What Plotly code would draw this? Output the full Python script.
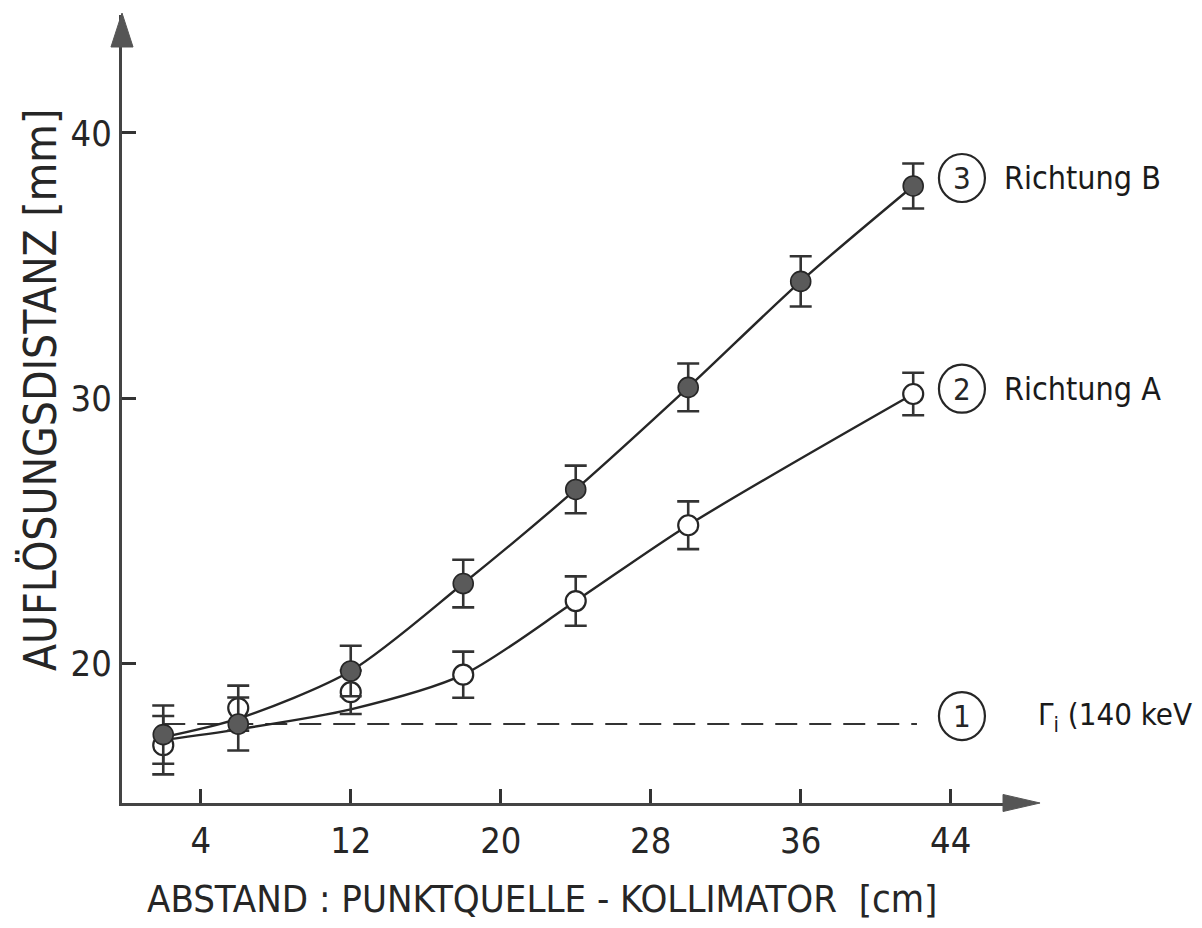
import plotly.graph_objects as go

# ---- data ----
x_b = [2, 6, 12, 18, 24, 30, 36, 42]
y_b = [17.3, 17.7, 19.7, 23.0, 26.55, 30.4, 34.4, 38.0]
err_b = [1.1, 1.0, 0.95, 0.9, 0.9, 0.9, 0.95, 0.85]

x_a = [2, 6, 12, 18, 24, 30, 42]
y_a = [16.9, 18.3, 18.9, 19.56, 22.34, 25.2, 30.15]
err_a = [1.1, 0.85, 0.82, 0.87, 0.93, 0.9, 0.8]

curve_b_x = [2, 6, 12, 18, 24, 30, 36, 42]
curve_b_y = [17.2, 17.9, 19.7, 23.0, 26.55, 30.4, 34.4, 38.0]
curve_a_x = [2, 6, 12, 18, 24, 30, 42]
curve_a_y = [17.1, 17.5, 18.25, 19.56, 22.34, 25.2, 30.15]

gamma_x = [2, 42.2]
gamma_level = 17.7

x_ticks = [4, 12, 20, 28, 36, 44]
y_ticks = [20, 30, 40]

x_range = [-0.2, 48.07]
y_range = [14.72, 44.45]

FONT = "DejaVu Sans Condensed, Liberation Sans Narrow, sans-serif"
INK = "#262626"

fig = go.Figure()

fig.add_trace(go.Scatter(
    x=gamma_x, y=[gamma_level] * len(gamma_x), mode="lines",
    line=dict(color="#333333", width=2.2, dash="22px,12px"),
    hoverinfo="skip", showlegend=False))

fig.add_trace(go.Scatter(
    x=curve_a_x, y=curve_a_y, mode="lines",
    line=dict(color=INK, width=2.4, shape="spline", smoothing=0.8),
    hoverinfo="skip", showlegend=False))
fig.add_trace(go.Scatter(
    x=curve_b_x, y=curve_b_y, mode="lines",
    line=dict(color=INK, width=2.4, shape="spline", smoothing=0.8),
    hoverinfo="skip", showlegend=False))

fig.add_trace(go.Scatter(
    x=x_a, y=y_a, mode="markers", name="Richtung A",
    marker=dict(size=20, color="white", line=dict(color=INK, width=2.2)),
    error_y=dict(type="data", array=err_a, visible=True,
                 color="#333333", thickness=2.6, width=11),
    showlegend=False))
fig.add_trace(go.Scatter(
    x=x_b, y=y_b, mode="markers", name="Richtung B",
    marker=dict(size=20, color="#5a5a5a", line=dict(color=INK, width=1.6)),
    error_y=dict(type="data", array=err_b, visible=True,
                 color="#333333", thickness=2.6, width=11),
    showlegend=False))

# circled labels and texts
labels = [
    ("3", 38.3, "Richtung B", 40, 32),
    ("2", 30.35, "Richtung A", 40, 32),
    ("1", 18.0, "Γ<sub>i</sub> (140 keV", 74, 31),
]
circle_x = 44.6
for num, yv, txt, shift, fsize in labels:
    fig.add_shape(type="circle", xref="x", yref="y",
                  xsizemode="pixel", ysizemode="pixel",
                  xanchor=circle_x, yanchor=yv,
                  x0=-23, x1=23, y0=-24, y1=24,
                  line=dict(color=INK, width=2.2))
    fig.add_annotation(x=circle_x, y=yv, xref="x", yref="y", text=num,
                       showarrow=False, xanchor="center", yanchor="middle",
                       font=dict(family=FONT, size=31, color=INK))
    fig.add_annotation(x=circle_x, y=yv, xref="x", yref="y", text=txt,
                       showarrow=False, xanchor="left", yanchor="middle", xshift=shift,
                       font=dict(family=FONT, size=fsize, color="#1a1a1a"))

# axis arrow heads
fig.add_shape(type="path", xref="paper", yref="paper",
              path="M 1.0144 0 L 0.9735 0.0108 L 0.9735 -0.0108 Z",
              fillcolor="#555555", line=dict(color="#555555", width=1))
fig.add_shape(type="path", xref="paper", yref="paper",
              path="M 0 1.0025 L -0.0122 0.9594 L 0.0122 0.9594 Z",
              fillcolor="#555555", line=dict(color="#555555", width=1))

# axis titles
fig.add_annotation(x=-0.0906, y=0.524, xref="paper", yref="paper",
                   xanchor="center", yanchor="middle",
                   text="AUFLÖSUNGSDISTANZ [mm]", textangle=-90, showarrow=False,
                   font=dict(family=FONT, size=44, color=INK))
fig.add_annotation(x=0.464, y=-0.1218, xref="paper", yref="paper",
                   xanchor="center", yanchor="middle",
                   text="ABSTAND : PUNKTQUELLE - KOLLIMATOR  [cm]", showarrow=False,
                   font=dict(family=FONT, size=38, color=INK))

fig.update_layout(
    width=1202, height=928,
    margin=dict(l=122, r=175, t=15, b=125),
    paper_bgcolor="white", plot_bgcolor="white",
    xaxis=dict(range=x_range, tickvals=x_ticks, ticktext=[str(v) for v in x_ticks],
               showgrid=False, zeroline=False, showline=True, linecolor="#444444",
               linewidth=3, ticks="inside", ticklen=14, tickwidth=3, tickcolor="#333333",
               ticklabelstandoff=4,
               tickfont=dict(family=FONT, size=36, color=INK)),
    yaxis=dict(range=y_range, tickvals=y_ticks, ticktext=[str(v) for v in y_ticks],
               showgrid=False, zeroline=False, showline=True, linecolor="#444444",
               linewidth=3, ticks="inside", ticklen=14, tickwidth=3, tickcolor="#333333",
               ticklabelstandoff=0,
               tickfont=dict(family=FONT, size=36, color=INK)),
)

fig.write_html("out.html")
